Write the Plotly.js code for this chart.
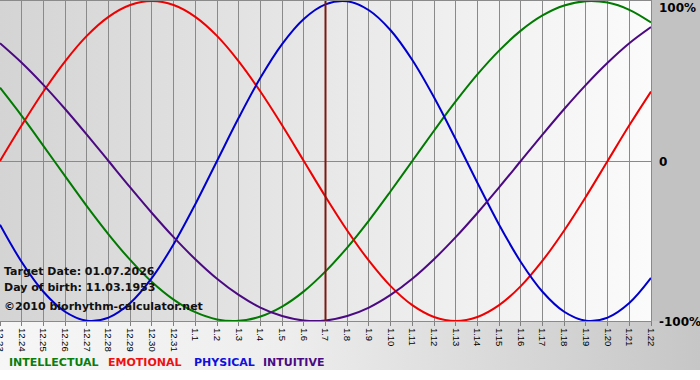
<!DOCTYPE html>
<html>
<head>
<meta charset="utf-8">
<script src="https://cdn.plot.ly/plotly-3.0.1.min.js"></script>
<style>
  html, body { margin: 0; padding: 0; background: #ffffff; }
  #wrap { position: relative; width: 700px; height: 380px; overflow: hidden; }
  .bg { position: absolute; }
  #bgRight { left: 651px; top: 0; width: 49px; height: 370px; background: #c2c2c2; }
  #bgBottom { left: 0; top: 321px; width: 700px; height: 49px;
    background: linear-gradient(to right, #f6f6f6 0%, #eeeeee 40%, #c6c6c6 100%); }
  #bgPlot { left: 0; top: 0; width: 651px; height: 321px;
    background: linear-gradient(to right, #d4d4d4 0%, #e6e6e6 45%, #fbfbfb 100%); }
  #chart { position: absolute; left: 0; top: 0; width: 700px; height: 380px; }
</style>
</head>
<body>
<div id="wrap">
  <div class="bg" id="bgRight"></div>
  <div class="bg" id="bgBottom"></div>
  <div class="bg" id="bgPlot"></div>
  <div id="chart"></div>
</div>
<script>
// Day labels (Dec 23 .. Jan 22)
const dayLabels = ['12.23','12.24','12.25','12.26','12.27','12.28','12.29','12.30','12.31',
  '1.1','1.2','1.3','1.4','1.5','1.6','1.7','1.8','1.9','1.10','1.11','1.12','1.13',
  '1.14','1.15','1.16','1.17','1.18','1.19','1.20','1.21','1.22'];

// Values in percent, read per day
const intellectual = [45.8, 28.2, 9.5, -9.5, -28.2, -45.8, -61.8, -75.6, -86.6, -94.5, -99.0,
  -99.9, -97.2, -91.0, -81.5, -69.0, -54.1, -37.2, -18.9, 0, 18.9, 37.2, 54.1, 69.0, 81.5,
  91.0, 97.2, 99.9, 99.0, 94.5, 86.6];
const emotional = [0, 22.3, 43.4, 62.3, 78.2, 90.1, 97.5, 100, 97.5, 90.1, 78.2, 62.3, 43.4,
  22.3, 0, -22.3, -43.4, -62.3, -78.2, -90.1, -97.5, -100, -97.5, -90.1, -78.2, -62.3, -43.4,
  -22.3, 0, 22.3, 43.4];
const physical = [-39.8, -63.1, -81.7, -94.2, -99.8, -97.9, -88.8, -73.1, -52.0, -27.0, 0,
  27.0, 52.0, 73.1, 88.8, 97.9, 99.8, 94.2, 81.7, 63.1, 39.8, 13.6, -13.6, -39.8, -63.1,
  -81.7, -94.2, -99.8, -97.9, -88.8, -73.1];
const intuitive = [73.6, 61.4, 47.6, 32.5, 16.5, 0, -16.5, -32.5, -47.6, -61.4, -73.6, -83.7,
  -91.6, -96.9, -99.7, -99.7, -96.9, -91.6, -83.7, -73.6, -61.4, -47.6, -32.5, -16.5, 0, 16.5,
  32.5, 47.6, 61.4, 73.6, 83.7];

const seriesNames = ['INTELLECTUAL', 'EMOTIONAL', 'PHYSICAL', 'INTUITIVE'];
const targetLabel = '1.7';
const infoLines = ['Target Date: 01.07.2026', 'Day of birth: 11.03.1953', '\u00a92010 biorhythm-calculator.net'];
const yTickVals = [-100, 0, 100];
const yTickText = ['-100%', '0', '100%'];

const xIdx = dayLabels.map((_, i) => i);
const colors = ['#007a00', '#ee0000', '#0000cc', '#4b0a82'];
const legendColors = ['#0b7d0b', '#ee1111', '#1111dd', '#4b0a82'];
const allSeries = [intellectual, emotional, physical, intuitive];

const traces = allSeries.map((s, k) => ({
  x: xIdx, y: s, type: 'scatter', mode: 'lines', name: seriesNames[k],
  line: { color: colors[k], width: 2, shape: 'spline', smoothing: 1 },
  hoverinfo: 'skip'
}));

const targetIdx = dayLabels.indexOf(targetLabel);
const W = 651, Ht = 320;

const annotations = [];
// info text
const infoY = [271, 287, 306];
infoLines.forEach((t, i) => annotations.push({
  xref: 'paper', yref: 'paper', x: 2 / W, y: (321 - infoY[i]) / Ht,
  xanchor: 'left', yanchor: 'middle', showarrow: false, text: '<b>' + t + '</b>',
  font: { family: 'DejaVu Sans', size: 11, color: '#111111' }
}));
// legend text
const legX = [7, 106, 192, 261];
seriesNames.forEach((n, i) => annotations.push({
  xref: 'paper', yref: 'paper', x: legX[i] / W, y: (321 - 362) / Ht,
  xanchor: 'left', yanchor: 'middle', showarrow: false, text: '<b>' + n + '</b>',
  font: { family: 'DejaVu Sans', size: 11, color: legendColors[i] }
}));
// right axis labels
const rightY = [322, 162, 8];
yTickText.forEach((t, i) => annotations.push({
  xref: 'paper', yref: 'paper', x: 1, xshift: 6, y: (321 - rightY[i]) / Ht,
  xanchor: 'left', yanchor: 'middle', showarrow: false, text: '<b>' + t + '</b>',
  font: { family: 'DejaVu Sans', size: 12, color: '#000000' }
}));

const layout = {
  width: 700, height: 380,
  margin: { l: 0, r: 49, t: 1, b: 59, pad: 0 },
  paper_bgcolor: 'rgba(0,0,0,0)',
  plot_bgcolor: 'rgba(0,0,0,0)',
  showlegend: false,
  xaxis: {
    range: [0, dayLabels.length - 1],
    tickvals: xIdx, ticktext: dayLabels, tickangle: 90,
    ticklabeloverflow: 'allow',
    ticks: 'outside', ticklen: 4, tickcolor: '#808080', tickwidth: 1,
    showgrid: true, gridcolor: '#8a8a8a', gridwidth: 1,
    showline: true, linecolor: '#8a8a8a', linewidth: 1, mirror: true,
    zeroline: false,
    tickfont: { family: 'Liberation Sans', size: 9.5, color: '#000000' },
    fixedrange: true
  },
  yaxis: {
    range: [-100, 100], tickvals: yTickVals, showticklabels: false,
    showgrid: true, gridcolor: '#8a8a8a', gridwidth: 1, zeroline: false,
    showline: true, linecolor: '#8a8a8a', mirror: true, ticks: '',
    fixedrange: true
  },
  shapes: [{
    type: 'line', xref: 'x', yref: 'paper', x0: targetIdx, x1: targetIdx, y0: 0, y1: 1,
    line: { color: '#7a1a14', width: 2 }
  }],
  annotations: annotations
};

Plotly.newPlot('chart', traces, layout, { staticPlot: true, displayModeBar: false });
</script>
</body>
</html>
